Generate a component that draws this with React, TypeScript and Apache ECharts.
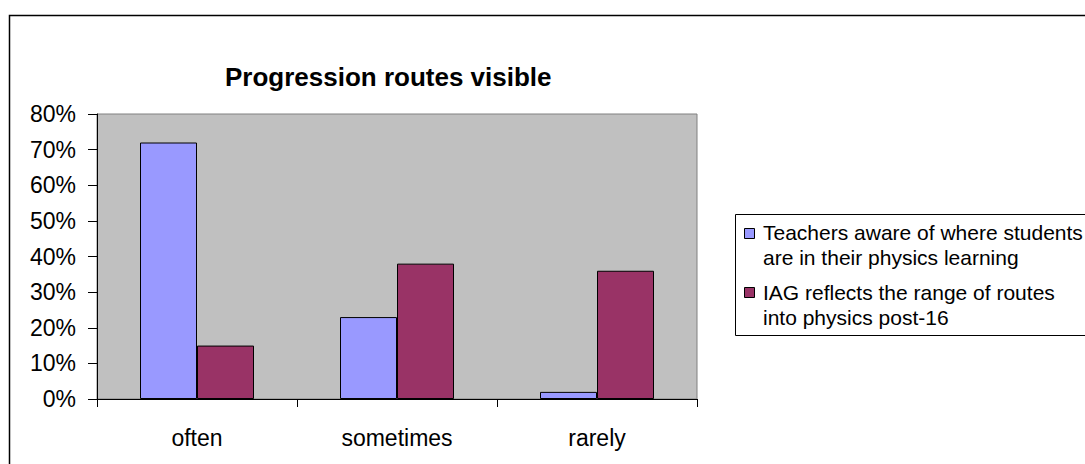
import React, { useEffect, useRef } from "react";
import * as echarts from "echarts";

const categories = ["often", "sometimes", "rarely"];
const seriesNames = [
  "Teachers aware of where students are in their physics learning",
  "IAG reflects the range of routes into physics post-16",
];
const legendLines = [
  "Teachers aware of where students\nare in their physics learning",
  "IAG reflects the range of routes\ninto physics post-16",
];
const teachersAware = [72, 23, 2];
const iagReflects = [15, 38, 36];
const yTicks = { min: 0, max: 80, interval: 10 };
const colors = ["#9999FF", "#993366"];
const FONT = "'Liberation Sans', Arial, sans-serif";

export default function App() {
  const ref = useRef<HTMLDivElement>(null);
  useEffect(() => {
    if (!ref.current) return;
    const chart = echarts.init(ref.current, null, { renderer: "svg" });
    chart.setOption({
      animation: false,
      backgroundColor: "#ffffff",
      title: {
        text: "Progression routes visible",
        left: 225,
        top: 64,
        padding: 0,
        textStyle: { fontFamily: FONT, fontSize: 26, fontWeight: "bold", color: "#000" },
      },
      grid: {
        left: 97,
        right: 388,
        top: 114,
        bottom: 65,
        show: true,
        backgroundColor: "#C0C0C0",
        borderColor: "#808080",
        borderWidth: 1,
      },
      xAxis: {
        type: "category",
        data: categories,
        boundaryGap: true,
        axisLine: { show: true, lineStyle: { color: "#000", width: 1 } },
        axisTick: { show: true, length: 8, lineStyle: { color: "#000" } },
        axisLabel: { margin: 27, fontFamily: FONT, fontSize: 23, color: "#000" },
        splitLine: { show: false },
      },
      yAxis: {
        type: "value",
        min: yTicks.min,
        max: yTicks.max,
        interval: yTicks.interval,
        axisLine: { show: true, lineStyle: { color: "#000", width: 1 } },
        axisTick: { show: true, length: 9, lineStyle: { color: "#000" } },
        axisLabel: { margin: 21, fontFamily: FONT, fontSize: 23, color: "#000", formatter: "{value}%" },
        splitLine: { show: false },
      },
      series: [
        {
          name: seriesNames[0],
          type: "bar",
          data: teachersAware,
          barGap: "0%",
          barCategoryGap: "43%",
          itemStyle: { color: colors[0], borderColor: "#000", borderWidth: 1 },
        },
        {
          name: seriesNames[1],
          type: "bar",
          data: iagReflects,
          barGap: "0%",
          barCategoryGap: "43%",
          itemStyle: { color: colors[1], borderColor: "#000", borderWidth: 1 },
        },
      ],
      graphic: [
        {
          type: "rect",
          silent: true,
          shape: { x: 9.5, y: 15.5, width: 1200, height: 600 },
          style: { fill: "none", stroke: "#000", lineWidth: 1.5 },
        },
        {
          type: "rect",
          silent: true,
          shape: { x: 735.5, y: 214.5, width: 400, height: 121 },
          style: { fill: "#fff", stroke: "#000", lineWidth: 1 },
        },
        {
          type: "rect",
          silent: true,
          shape: { x: 744.5, y: 228.5, width: 10, height: 10 },
          style: { fill: colors[0], stroke: "#000", lineWidth: 1 },
        },
        {
          type: "text",
          silent: true,
          x: 763,
          y: 219.5,
          style: {
            text: legendLines[0],
            fontFamily: FONT,
            fontSize: 21,
            lineHeight: 25,
            fill: "#000",
            verticalAlign: "top",
          },
        },
        {
          type: "rect",
          silent: true,
          shape: { x: 744.5, y: 287.5, width: 10, height: 10 },
          style: { fill: colors[1], stroke: "#000", lineWidth: 1 },
        },
        {
          type: "text",
          silent: true,
          x: 763,
          y: 279.5,
          style: {
            text: legendLines[1],
            fontFamily: FONT,
            fontSize: 21,
            lineHeight: 25,
            fill: "#000",
            verticalAlign: "top",
          },
        },
      ],
    });
    return () => chart.dispose();
  }, []);
  return (
    <div
      ref={ref}
      style={{ position: "fixed", left: 0, top: 0, width: 1085, height: 464, background: "#fff" }}
    />
  );
}
